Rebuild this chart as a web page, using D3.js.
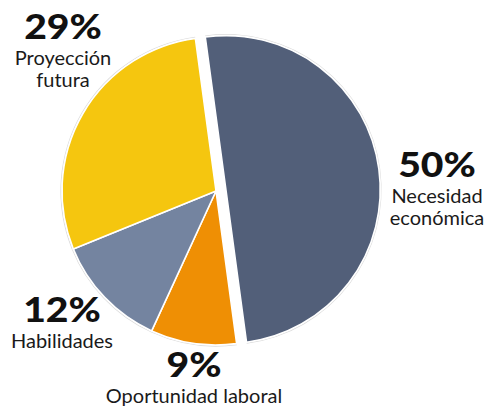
<!DOCTYPE html>
<html>
<head>
<meta charset="utf-8">
<script src="https://cdn.jsdelivr.net/npm/d3@7"></script>
<style>
  html, body { margin: 0; padding: 0; background: #fff; }
  svg { display: block; }
  .pct { font-family: Lato, "DejaVu Sans", sans-serif; font-weight: 900; fill: #111; }
  .lbl { font-family: Lato, "DejaVu Sans", sans-serif; font-weight: 400; fill: #1a1a1a; }
</style>
</head>
<body>
<svg id="chart"></svg>
<script>
var w = 486;
var h = 408;

// data
var categories = ["Necesidad económica", "Oportunidad laboral", "Habilidades", "Proyección futura"];
var values = [50, 9, 12, 29];
var colors = ["#525f79", "#ef8f04", "#7484a0", "#f5c60f"];
var labelLines = [["Necesidad", "económica"], ["Oportunidad laboral"], ["Habilidades"], ["Proyección", "futura"]];
var exploded = [true, false, false, false];

// label anchors (centre of the text block, percent baseline)
var labelPos = [[437, 177], [194, 377], [62, 322], [63, 39]];

var cx = 216, cy = 191, r = 154, offset = 10;
var start = -7.7 * Math.PI / 180;

var data = categories.map(function(c, i) {
  return { name: c, value: values[i], color: colors[i], lines: labelLines[i], out: exploded[i], pos: labelPos[i] };
});

var pie = d3.pie().sort(null).value(function(d) { return d.value; })
  .startAngle(start).endAngle(start + 2 * Math.PI);
var arc = d3.arc().innerRadius(0).outerRadius(r);
var halo = d3.arc().innerRadius(r + 0.6).outerRadius(r + 1.6);

var graph = d3.select("#chart").attr("width", w).attr("height", h);
var g = graph.append("g").attr("transform", "translate(" + cx + "," + cy + ")");

var slices = g.selectAll("g.slice").data(pie(data)).enter().append("g")
  .attr("class", "slice")
  .attr("transform", function(d) {
    if (!d.data.out) return null;
    var a = (d.startAngle + d.endAngle) / 2;
    return "translate(" + (Math.sin(a) * offset) + "," + (-Math.cos(a) * offset) + ")";
  });

slices.append("path").attr("d", halo).attr("fill", "#dcdcdc");
slices.append("path").attr("d", arc)
  .attr("fill", function(d) { return d.data.color; })
  .attr("stroke", "#fff").attr("stroke-width", 1.6).attr("stroke-linejoin", "round");

var labels = graph.selectAll("g.label").data(data).enter().append("g")
  .attr("class", "label")
  .attr("transform", function(d) { return "translate(" + d.pos[0] + "," + d.pos[1] + ")"; });

// the original percent face is wider than Lato, so stretch it a bit
labels.append("text").attr("class", "pct")
  .attr("text-anchor", "middle").attr("font-size", 34)
  .attr("transform", "scale(1.15,1)")
  .text(function(d) { return d.value + "%"; });

labels.each(function(d) {
  var t = d3.select(this);
  d.lines.forEach(function(line, j) {
    t.append("text").attr("class", "lbl")
      .attr("text-anchor", "middle").attr("font-size", 20)
      .attr("y", 26 + j * 22)
      .text(line);
  });
});
</script>
</body>
</html>
